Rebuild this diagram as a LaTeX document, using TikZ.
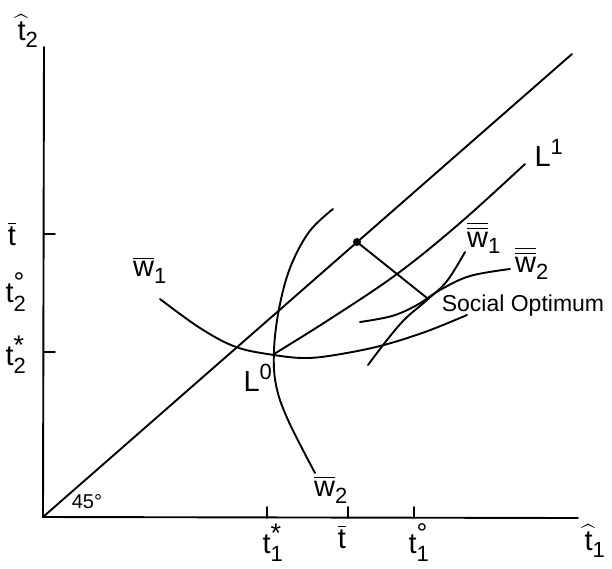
\documentclass[tikz,border=0pt]{standalone}
\usepackage{amsmath}
\usepackage{fontspec}
\setmainfont{Liberation Sans}
\DeclareMathSizes{29}{29}{22}{17}
\newcommand\tx[1]{\text{#1}}
\newcommand\bigsup[1]{\mbox{\fontsize{27}{27}\selectfont #1}}
\begin{document}
\begin{tikzpicture}[x=1pt,y=-1pt,line width=1.9pt,line cap=round,
  lbl/.style={inner sep=0pt,font=\fontsize{29}{31}\selectfont},
  so/.style={inner sep=0pt,font=\fontsize{23}{26}\selectfont},
  deg/.style={inner sep=0pt,font=\fontsize{20}{22}\selectfont},
  curve/.style={line width=1.9pt}]
\useasboundingbox (0,0) rectangle (612,568);
% axes
\coordinate (O) at (43,517);
\coordinate (Ytop) at (44,47);
\coordinate (Xend) at (578,518);
\draw (Ytop) -- (O) -- (Xend);
% ticks
\coordinate (yt1) at (44,234); \coordinate (yt1e) at (55,234);
\coordinate (yt2) at (44,352); \coordinate (yt2e) at (55,352);
\draw (yt1) -- (yt1e);
\draw (yt2) -- (yt2e);
\coordinate (xt1) at (267,518); \coordinate (xt1e) at (267,507);
\coordinate (xt2) at (348,518); \coordinate (xt2e) at (348,507);
\coordinate (xt3) at (414,518); \coordinate (xt3e) at (414,507);
\draw (xt1) -- (xt1e);
\draw (xt2) -- (xt2e);
\draw (xt3) -- (xt3e);
% 45 degree line
\coordinate (D) at (572,54);
\draw (O) -- (D);
% dot and perpendicular to social optimum
\coordinate (Dot) at (357,242);
\coordinate (SO) at (427,298);
\fill (Dot) circle (4pt);
\draw (Dot) -- (SO);
% L1 curve
\coordinate (L0) at (274,354);
\coordinate (L1e) at (525,164);
\draw[curve] plot[smooth,tension=0.6] coordinates {(274,354) (330,319) (397,274) (460,223) (525,164)};
% w1 bar
\draw[curve] plot[smooth,tension=0.6] coordinates {(160,299) (200,328) (236,347) (274,355) (305,358) (335,355) (380,346) (425,332) (467,315)};
% w2 bar
\draw[curve] plot[smooth,tension=0.6] coordinates {(333,209) (309,232) (290,268) (279,309) (274,350) (276,385) (288,420) (315,473)};
% w1 double bar
\draw[curve] plot[smooth,tension=0.6] coordinates {(465,252) (447,281) (427,300) (405,319) (387,340) (368,365)};
% w2 double bar
\draw[curve] plot[smooth,tension=0.6] coordinates {(360,322) (392,316) (417,305) (440,290) (470,276) (510,269)};
% labels
\node[lbl] (lt2) at (28,31) {$\widehat{\tx{t}}_{\tx{2}}$};
\node[lbl] (ltbar) at (12,234) {$\overline{\tx{t}}$};
\node[lbl] (lt2o) at (16,292) {$\tx{t}^{\bigsup{°}}_{\tx{2}}$};
\node[lbl] (lt2s) at (16,355) {$\tx{t}^{\bigsup{*}}_{\tx{2}}$};
\node[lbl] (lt1s) at (273,543) {$\tx{t}^{\bigsup{*}}_{\tx{1}}$};
\node[lbl] (ltbarb) at (342,537) {$\overline{\tx{t}}$};
\node[lbl] (lt1o) at (419,543) {$\tx{t}^{\bigsup{°}}_{\tx{1}}$};
\node[lbl] (lt1) at (595,541) {$\widehat{\tx{t}}_{\tx{1}}$};
\node[deg] (l45) at (87,502) {45°};
\node[lbl] (lw1) at (150,270) {$\overline{\tx{w}}_{\tx{1}}$};
\node[lbl] (lw2) at (331,490) {$\overline{\tx{w}}_{\tx{2}}$};
\node[lbl] (lL0) at (258,378) {$\tx{L}^{\tx{0}}$};
\node[lbl] (lL1) at (549,153) {$\tx{L}^{\tx{1}}$};
\node[lbl] (lww1) at (484,238) {$\overline{\overline{\tx{w}}}_{\tx{1}}$};
\node[lbl] (lww2) at (532,263) {$\overline{\overline{\tx{w}}}_{\tx{2}}$};
\node[so] (lso) at (523,306) {Social Optimum};
\end{tikzpicture}
\end{document}
